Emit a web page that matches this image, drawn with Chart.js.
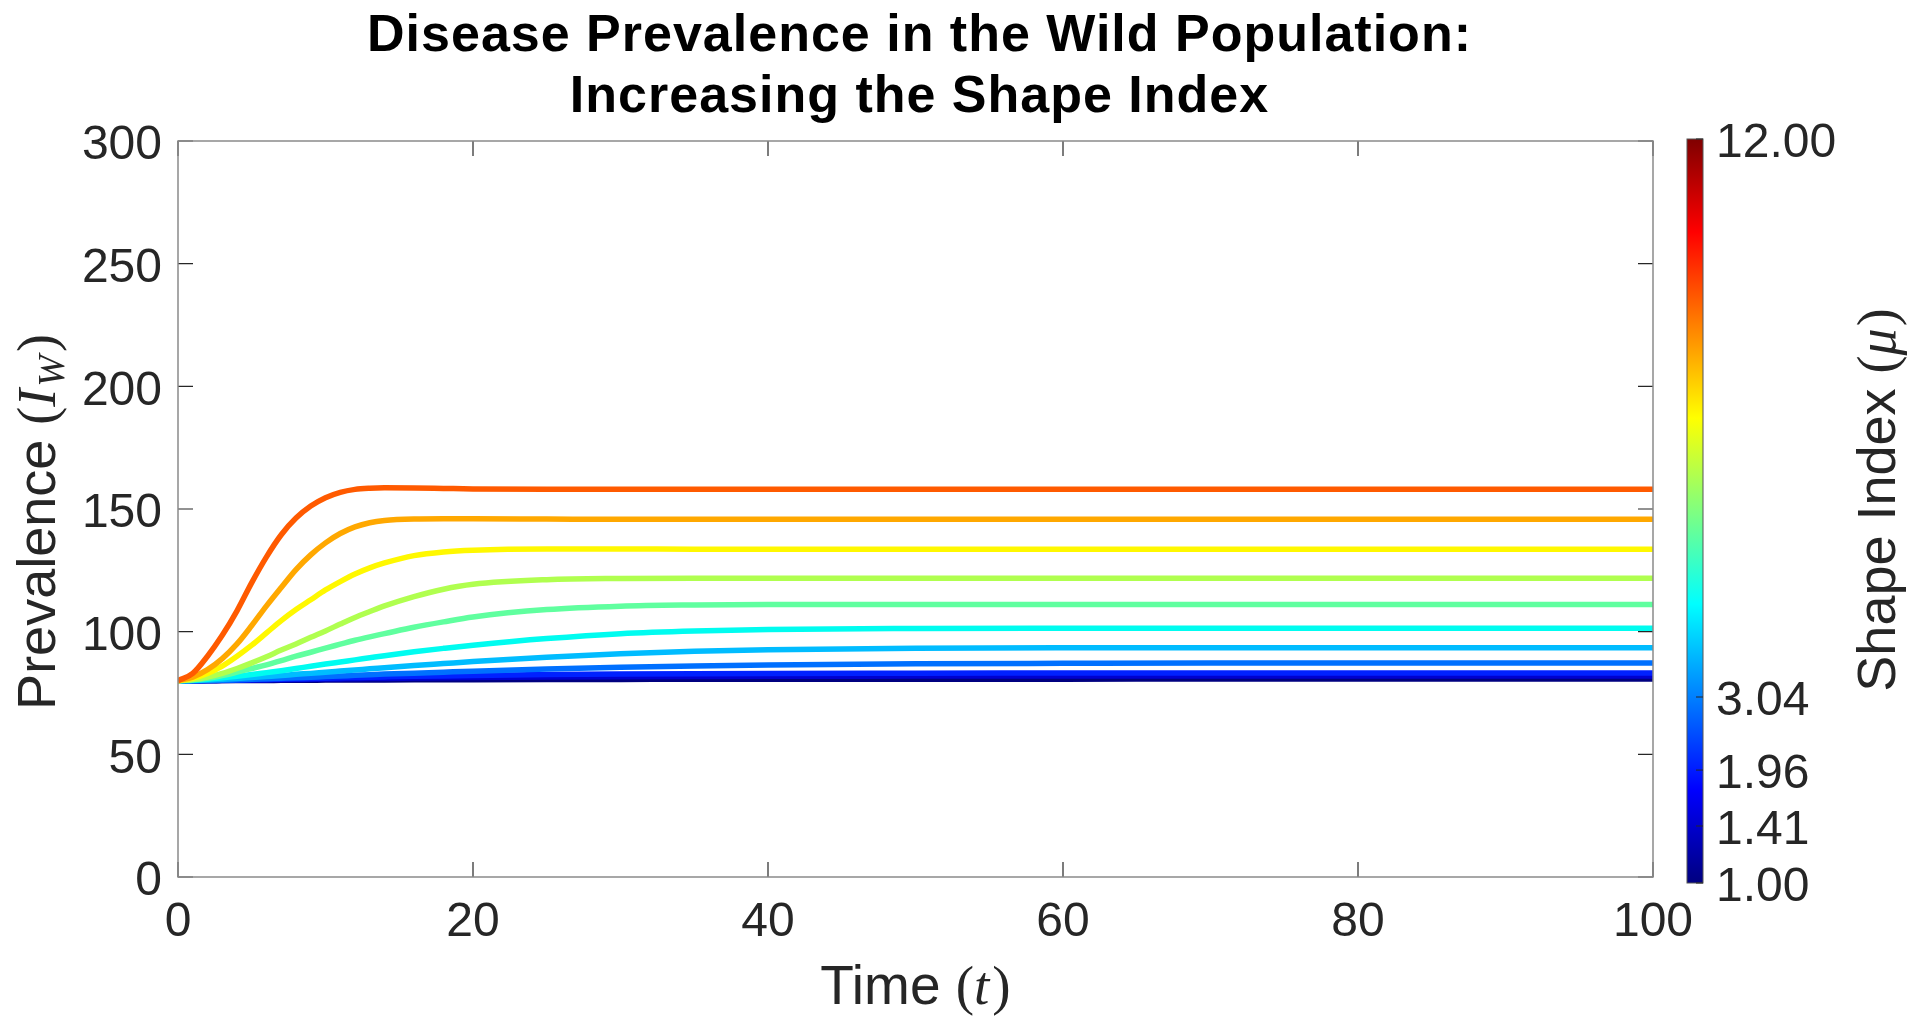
<!DOCTYPE html>
<html>
<head>
<meta charset="utf-8">
<script src="https://cdn.jsdelivr.net/npm/chart.js@4"></script>
<style>
  html, body { margin: 0; padding: 0; background: #fff; }
  canvas { display: block; }
</style>
</head>
<body>
<canvas id="chart" width="1920" height="1029"></canvas>
<script>
// time points (t)
const times = [0, 1, 2, 3, 4, 5, 6, 7, 8, 9, 10, 11, 12, 13, 14, 16, 18, 20, 25, 30, 35, 40, 50, 60, 70, 80, 90, 100]

// prevalence I_W for each shape index, lowest mu first
const curve0  = [80, 80, 80.02, 80.05, 80.08, 80.1, 80.13, 80.16, 80.19, 80.22, 80.25, 80.27, 80.3, 80.32, 80.34, 80.38, 80.41, 80.44, 80.5, 80.55, 80.58, 80.6, 80.63, 80.65, 80.66, 80.67, 80.67, 80.67]
const curve1  = [80, 80, 80.05, 80.1, 80.17, 80.25, 80.33, 80.42, 80.5, 80.58, 80.66, 80.74, 80.82, 80.89, 80.96, 81.08, 81.2, 81.3, 81.5, 81.65, 81.75, 81.82, 81.88, 81.9, 81.92, 81.92, 81.92, 81.92]
const curve2  = [80, 80.02, 80.08, 80.16, 80.26, 80.37, 80.5, 80.63, 80.76, 80.9, 81.03, 81.17, 81.3, 81.43, 81.55, 81.78, 81.98, 82.15, 82.5, 82.72, 82.87, 82.97, 83.07, 83.12, 83.14, 83.15, 83.15, 83.15]
const curve3  = [80, 80.03, 80.1, 80.2, 80.4, 80.6, 80.8, 81, 81.2, 81.45, 81.7, 81.95, 82.2, 82.45, 82.7, 83.1, 83.5, 83.9, 84.8, 85.5, 86, 86.4, 86.9, 87.1, 87.2, 87.2, 87.2, 87.2]
const curve4  = [80, 80.1, 80.3, 80.6, 80.9, 81.3, 81.7, 82.1, 82.6, 83, 83.5, 83.95, 84.4, 84.85, 85.3, 86.2, 87, 87.8, 89.6, 91, 92, 92.6, 93.2, 93.4, 93.4, 93.4, 93.4, 93.4]
const curve5  = [80, 80.2, 80.6, 81.2, 81.8, 82.5, 83.3, 84.1, 85, 85.9, 86.8, 87.65, 88.5, 89.35, 90.2, 91.8, 93.2, 94.5, 97.2, 99.2, 100.3, 100.9, 101.3, 101.4, 101.4, 101.4, 101.4, 101.4]
const curve6  = [80, 80.4, 81, 82.1, 83.5, 85, 86.5, 88.2, 90, 91.6, 93.3, 94.9, 96.5, 97.9, 99.2, 101.8, 104, 106, 109, 110.4, 110.9, 111.1, 111.1, 111.1, 111.1, 111.1, 111.1, 111.1]
const curve7  = [80, 80.5, 81.5, 83, 85, 87.3, 89.8, 92.5, 95, 97.7, 100.3, 103.1, 105.8, 108.2, 110.5, 114.3, 117.3, 119.3, 121.2, 121.7, 121.8, 121.8, 121.8, 121.8, 121.8, 121.8, 121.8, 121.8]
const curve8  = [80, 81, 83, 86, 90, 94.5, 99.5, 104.5, 109, 113, 117, 120.4, 123.5, 126, 128, 131, 132.5, 133.2, 133.7, 133.7, 133.6, 133.6, 133.6, 133.6, 133.6, 133.6, 133.6, 133.6]
const curve9  = [80, 81.5, 84.5, 89, 95, 102.5, 110.5, 118, 125.3, 131.3, 136.2, 140, 142.7, 144.4, 145.3, 145.9, 146, 146, 145.9, 145.8, 145.8, 145.8, 145.8, 145.8, 145.8, 145.8, 145.8, 145.8]
const curve10 = [80, 83, 90, 98.5, 108.5, 120, 130.5, 139.5, 146.3, 151.2, 154.6, 156.8, 158, 158.5, 158.7, 158.6, 158.4, 158.2, 158, 158, 158, 158, 158, 158, 158, 158, 158, 158]

const curves = [curve0, curve1, curve2, curve3, curve4, curve5, curve6, curve7, curve8, curve9, curve10]
const lineColors = ["#000080", "#0000d0", "#0021ff", "#0070ff", "#00bcff", "#00fcf0", "#60ff9f", "#b0ff4f", "#fff800", "#ffa800", "#ff5a00"]

// colorbar ticks: label and level along the bar (0 = bottom, 1 = top)
const shapeTickLabels = ["1.00", "1.41", "1.96", "3.04", "12.00"]
const shapeTickLevels = [0, 0.0766, 0.1518, 0.25, 1]

const xTicks = [0, 20, 40, 60, 80, 100]
const yTicks = [0, 50, 100, 150, 200, 250, 300]

const SANS = '"Liberation Sans", Arial, Helvetica, sans-serif'
const SERIF = '"Liberation Serif", "DejaVu Serif", serif'
const INK = "#262626"

function jet(v) {
    const c = (a) => Math.round(255 * Math.min(1, Math.max(0, a)))
    return `rgb(${c(1.5 - Math.abs(4 * v - 3))},${c(1.5 - Math.abs(4 * v - 2))},${c(1.5 - Math.abs(4 * v - 1))})`
}

// draw text made of several font runs, centred on x, baseline at y
function drawRich(ctx, parts, x, y) {
    let w = 0
    parts.forEach(p => { ctx.font = p.font; w += ctx.measureText(p.t).width + (p.gap || 0) })
    let cx = x - w / 2
    ctx.textAlign = "left"
    ctx.textBaseline = "alphabetic"
    parts.forEach(p => {
        ctx.font = p.font
        ctx.fillText(p.t, cx, y + (p.dy || 0))
        cx += ctx.measureText(p.t).width + (p.gap || 0)
    })
}

const decor = {
    id: "decor",
    afterDraw(chart) {
        const {ctx, chartArea: a, scales: {x, y}} = chart
        ctx.save()

        // inward ticks on all four sides
        ctx.strokeStyle = INK
        ctx.lineWidth = 1.2
        ctx.beginPath()
        xTicks.forEach(v => {
            const px = x.getPixelForValue(v)
            ctx.moveTo(px, a.bottom); ctx.lineTo(px, a.bottom - 15)
            ctx.moveTo(px, a.top); ctx.lineTo(px, a.top + 15)
        })
        yTicks.forEach(v => {
            const py = y.getPixelForValue(v)
            ctx.moveTo(a.left, py); ctx.lineTo(a.left + 15, py)
            ctx.moveTo(a.right, py); ctx.lineTo(a.right - 15, py)
        })
        ctx.stroke()

        // axes box
        ctx.strokeStyle = "#8a8a8a"
        ctx.lineWidth = 1.5
        ctx.strokeRect(a.left, a.top, a.right - a.left, a.bottom - a.top)

        // title
        ctx.save()
        ctx.fillStyle = "#000"
        ctx.textAlign = "center"
        ctx.textBaseline = "alphabetic"
        ctx.font = `bold 52px ${SANS}`
        ctx.letterSpacing = "1px"
        const tx = (a.left + a.right) / 2 + 4
        ctx.fillText("Disease Prevalence in the Wild Population:", tx, 51)
        ctx.fillText("Increasing the Shape Index", tx, 112)
        ctx.restore()

        // x axis title
        ctx.fillStyle = INK
        drawRich(ctx, [
            {t: "Time ", font: `55px ${SANS}`},
            {t: "(", font: `55px ${SERIF}`},
            {t: "t", font: `italic 55px ${SERIF}`, gap: 3},
            {t: ")", font: `55px ${SERIF}`}
        ], (a.left + a.right) / 2, 1004)

        // y axis title
        ctx.save()
        ctx.translate(55, 522)
        ctx.rotate(-Math.PI / 2)
        drawRich(ctx, [
            {t: "Prevalence ", font: `54px ${SANS}`},
            {t: "(", font: `54px ${SERIF}`},
            {t: "I", font: `italic 54px ${SERIF}`, gap: 2},
            {t: "W", font: `italic 38px ${SERIF}`, dy: 9, gap: 3},
            {t: ")", font: `54px ${SERIF}`}
        ], 0, 0)
        ctx.restore()

        // colorbar
        const cbL = 1687, cbR = 1703, cbT = 139, cbB = 883
        const g = ctx.createLinearGradient(0, cbB, 0, cbT)
        for (let i = 0; i <= 64; i++) g.addColorStop(i / 64, jet(i / 64))
        ctx.fillStyle = g
        ctx.fillRect(cbL, cbT, cbR - cbL, cbB - cbT)
        ctx.strokeStyle = "#555"
        ctx.lineWidth = 1
        ctx.strokeRect(cbL, cbT, cbR - cbL, cbB - cbT)

        ctx.strokeStyle = INK
        ctx.fillStyle = INK
        ctx.font = `48px ${SANS}`
        ctx.textAlign = "left"
        ctx.textBaseline = "middle"
        ctx.beginPath()
        shapeTickLabels.forEach((lab, i) => {
            const py = cbB - shapeTickLevels[i] * (cbB - cbT)
            ctx.moveTo(cbR, py); ctx.lineTo(cbR - 7, py)
            ctx.fillText(lab, 1716, py + 5)
        })
        ctx.stroke()

        // colorbar title
        ctx.save()
        ctx.translate(1895, 500)
        ctx.rotate(-Math.PI / 2)
        drawRich(ctx, [
            {t: "Shape Index ", font: `54px ${SANS}`},
            {t: "(", font: `54px ${SERIF}`},
            {t: "\u03bc", font: `italic 54px ${SERIF}`, gap: 2},
            {t: ")", font: `54px ${SERIF}`}
        ], 0, 0)
        ctx.restore()

        ctx.restore()
    }
}

const datasets = curves.map((c, k) => ({
    data: times.map((t, i) => ({x: t, y: c[i]})),
    borderColor: lineColors[k],
    borderWidth: 5.5,
    pointRadius: 0,
    fill: false,
    cubicInterpolationMode: "monotone",
    order: curves.length - k
}))

new Chart(document.querySelector("#chart"), {
    type: "line",
    data: {datasets},
    options: {
        responsive: false,
        animation: false,
        devicePixelRatio: 1,
        layout: {padding: {top: 141, right: 267, left: 0, bottom: 0}},
        scales: {
            x: {
                type: "linear",
                min: 0,
                max: 100,
                afterBuildTicks: (s) => { s.ticks = xTicks.map(v => ({value: v})) },
                afterFit: (s) => { s.height = 152 },
                grid: {display: false, drawTicks: false},
                border: {display: false},
                ticks: {color: INK, padding: 17, maxRotation: 0, font: {family: SANS, size: 48}}
            },
            y: {
                min: 0,
                max: 300,
                afterBuildTicks: (s) => { s.ticks = yTicks.map(v => ({value: v})) },
                afterFit: (s) => { s.width = 178 },
                grid: {display: false, drawTicks: false},
                border: {display: false},
                ticks: {color: INK, padding: 16, labelOffset: 5, font: {family: SANS, size: 48}}
            }
        },
        plugins: {
            legend: {display: false},
            tooltip: {enabled: false}
        }
    },
    plugins: [decor]
})
</script>
</body>
</html>
